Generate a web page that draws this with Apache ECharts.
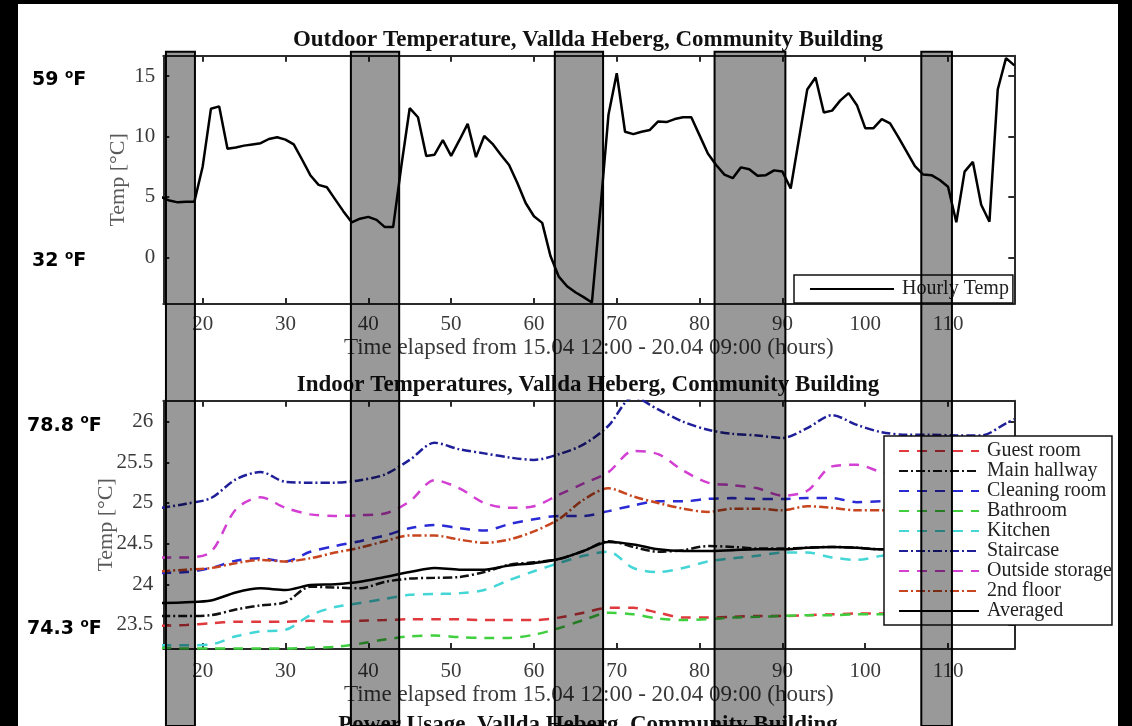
<!DOCTYPE html>
<html>
<head>
<meta charset="utf-8">
<script src="https://cdn.jsdelivr.net/npm/echarts@6/dist/echarts.min.js"></script>
<style>
html,body{margin:0;padding:0;background:#000;}
#c{width:1132px;height:726px;}
</style>
</head>
<body>
<div id="c"></div>
<script>
// ---------- data ----------
const outdoorHours = [15,16,17,18,19,20,21,22,23,24,25,26,27,28,29,30,31,32,33,34,35,36,37,38,39,40,41,42,43,44,45,46,47,48,49,50,51,52,53,54,55,56,57,58,59,60,61,62,63,64,65,66,67,68,69,70,71,72,73,74,75,76,77,78,79,80,81,82,83,84,85,86,87,88,89,90,91,92,93,94,95,96,97,98,99,100,101,102,103,104,105,106,107,108,109,110,111,112,113,114,115,116,117,118];
const outdoorTemp = [5.0,4.7,4.55,4.6,4.6,7.5,12.3,12.5,9.0,9.1,9.25,9.35,9.45,9.8,9.95,9.75,9.35,8.1,6.8,6.0,5.8,4.8,3.8,2.9,3.2,3.35,3.1,2.5,2.5,7.6,12.35,11.6,8.4,8.5,9.7,8.4,9.7,11.05,8.3,10.05,9.4,8.5,7.65,6.15,4.5,3.4,2.85,0.1,-1.6,-2.4,-2.9,-3.3,-3.75,3.8,11.8,15.25,10.4,10.2,10.4,10.55,11.25,11.2,11.45,11.6,11.6,10.1,8.6,7.65,6.85,6.55,7.45,7.3,6.75,6.8,7.2,7.1,5.7,9.8,13.9,14.9,12.0,12.15,13.0,13.6,12.6,10.7,10.7,11.45,11.1,9.95,8.75,7.55,6.85,6.8,6.4,5.85,2.9,7.1,7.9,4.35,2.95,13.9,16.5,15.9];

const indoorHours = [15,18,21,24,27,30,33,36,39,42,45,48,51,54,57,60,63,66,69,72,75,78,81,84,87,90,93,96,99,102,105,108,111,114,117,118];
const guestRoom      = [23.49,23.5,23.52,23.54,23.54,23.54,23.55,23.54,23.55,23.56,23.57,23.57,23.57,23.56,23.56,23.56,23.59,23.65,23.71,23.71,23.65,23.59,23.59,23.6,23.61,23.61,23.62,23.63,23.64,23.64,23.64,23.64,23.64,23.64,23.64,23.64];
const mainHallway    = [23.61,23.61,23.62,23.69,23.74,23.78,23.97,23.96,23.95,24.03,24.07,24.08,24.09,24.15,24.24,24.27,24.31,24.41,24.53,24.46,24.4,24.42,24.47,24.46,24.44,24.44,24.45,24.46,24.45,24.43,24.43,24.43,24.43,24.43,24.43,24.43];
const cleaningRoom   = [24.14,24.15,24.2,24.29,24.32,24.28,24.4,24.47,24.53,24.6,24.69,24.73,24.69,24.66,24.74,24.8,24.84,24.84,24.9,24.97,25.02,25.02,25.05,25.06,25.05,25.05,25.06,25.06,25.01,25.02,25.02,25.02,25.02,25.02,25.02,25.02];
const bathroom       = [23.22,23.21,23.21,23.21,23.21,23.21,23.22,23.23,23.27,23.32,23.36,23.37,23.35,23.34,23.34,23.38,23.46,23.56,23.65,23.63,23.58,23.56,23.57,23.59,23.6,23.61,23.62,23.62,23.63,23.63,23.63,23.63,23.63,23.63,23.63,23.63];
const kitchen        = [23.25,23.25,23.26,23.36,23.42,23.44,23.62,23.72,23.77,23.82,23.87,23.88,23.89,23.93,24.05,24.16,24.26,24.35,24.4,24.2,24.15,24.2,24.28,24.32,24.35,24.39,24.39,24.33,24.3,24.35,24.38,24.38,24.38,24.38,24.38,24.38];
const staircase      = [24.94,24.99,25.06,25.29,25.38,25.26,25.25,25.25,25.28,25.35,25.53,25.74,25.66,25.61,25.56,25.53,25.6,25.72,25.95,26.3,26.15,26.0,25.9,25.85,25.83,25.8,25.92,26.08,25.96,25.87,25.84,25.84,25.83,25.83,25.98,26.03];
const outsideStorage = [24.33,24.33,24.4,24.92,25.07,24.94,24.86,24.84,24.85,24.87,25.02,25.28,25.18,25.0,24.94,24.96,25.1,25.24,25.38,25.64,25.6,25.4,25.25,25.22,25.18,25.09,25.15,25.45,25.47,25.38,25.35,25.35,25.35,25.35,25.35,25.35];
const secondFloor    = [24.16,24.18,24.2,24.26,24.3,24.28,24.32,24.39,24.45,24.53,24.6,24.6,24.55,24.51,24.55,24.65,24.8,25.04,25.18,25.08,25.0,24.93,24.89,24.93,24.93,24.91,24.96,24.94,24.91,24.91,24.91,24.91,24.91,24.91,24.91,24.91];
const averaged       = [23.77,23.78,23.8,23.9,23.95,23.93,23.99,24.0,24.03,24.09,24.15,24.2,24.18,24.18,24.23,24.26,24.31,24.41,24.52,24.49,24.43,24.41,24.41,24.42,24.43,24.43,24.45,24.46,24.45,24.43,24.43,24.43,24.43,24.43,24.43,24.43];

const indoorNames = ['Guest room','Main hallway','Cleaning room','Bathroom','Kitchen','Staircase','Outside storage','2nd floor','Averaged'];

const xTicks = [20,30,40,50,60,70,80,90,100,110];
const outdoorYTicks = [0,5,10,15];
const indoorYTicks = [23.5,24,24.5,25,25.5,26];

// shaded periods (hours)
const bandStart = [15.57,37.9,62.52,81.81,106.77];
const bandEnd   = [19.07,43.73,68.35,90.36,110.47];

// Celsius reference ticks that get a Fahrenheit note on the left
const fahrenheitC = [15,0,26,23.5];
const fahrenheitAxis = [0,0,2,2];

// ---------- chart ----------
const serif = '"Liberation Serif","Times New Roman",serif';
const xMin = 15.25, xMax = 118;
const axisColor = '#2b2b2b';
const pair = (xs, ys) => xs.map((x, i) => [x, ys[i]]);

function xAxes(gridIndex, nameGap, labelMargin) {
  const common = {
    gridIndex, type: 'value', min: xMin, max: xMax,
    axisLine: {show: true, onZero: false, lineStyle: {color: axisColor, width: 2}},
    axisTick: {show: true, inside: true, length: 6, customValues: xTicks, lineStyle: {color: axisColor, width: 2}},
    splitLine: {show: false}
  };
  return [
    Object.assign({}, common, {
      position: 'bottom',
      axisLabel: {show: true, customValues: xTicks, margin: labelMargin, color: '#3a3a3a', fontFamily: serif, fontSize: 21},
      name: 'Time elapsed from 15.04 12:00 - 20.04 09:00 (hours)',
      nameLocation: 'middle', nameGap, nameMoveOverlap: false,
      nameTextStyle: {fontFamily: serif, fontSize: 23, color: '#3a3a3a'}
    }),
    Object.assign({}, common, {position: 'top', axisLabel: {show: false}})
  ];
}
function yAxes(gridIndex, min, max, ticks, nameGap, labelMargin) {
  const common = {
    gridIndex, type: 'value', min, max,
    axisLine: {show: true, onZero: false, lineStyle: {color: axisColor, width: 2}},
    axisTick: {show: true, inside: true, length: 6, customValues: ticks, lineStyle: {color: axisColor, width: 2}},
    splitLine: {show: false}
  };
  return [
    Object.assign({}, common, {
      position: 'left',
      axisLabel: {show: true, customValues: ticks, margin: labelMargin, color: '#3a3a3a', fontFamily: serif, fontSize: 21},
      name: 'Temp [°C]', nameLocation: 'middle', nameGap, nameRotate: 90, nameMoveOverlap: false,
      nameTextStyle: {fontFamily: serif, fontSize: 22, color: '#5a5a5a'}
    }),
    Object.assign({}, common, {position: 'right', axisLabel: {show: false}})
  ];
}

const dashed = [10, 8];
const dashDot = [9, 3, 2, 3];
const indoorStyles = [
  {data: guestRoom, color: '#e0393e', type: dashed},
  {data: mainHallway, color: '#111111', type: dashDot},
  {data: cleaningRoom, color: '#2b2bd6', type: dashed},
  {data: bathroom, color: '#3fcf3f', type: dashed},
  {data: kitchen, color: '#44d6d6', type: dashed},
  {data: staircase, color: '#1f1f99', type: dashDot},
  {data: outsideStorage, color: '#d23fd2', type: dashed},
  {data: secondFloor, color: '#c8461f', type: dashDot},
  {data: averaged, color: '#000000', type: 'solid'}
];

const series = [{
  name: 'Hourly Temp', type: 'line', xAxisIndex: 0, yAxisIndex: 0,
  data: pair(outdoorHours, outdoorTemp), symbol: 'none', clip: true,
  color: '#000', lineStyle: {color: '#000', width: 2.5}, z: 3
}];
indoorStyles.forEach((s, i) => {
  series.push({
    name: indoorNames[i], type: 'line', xAxisIndex: 2, yAxisIndex: 2,
    data: pair(indoorHours, s.data), symbol: 'none', clip: true, smooth: 0.3,
    color: s.color, lineStyle: {color: s.color, width: 2.5, type: s.type}, z: 3
  });
});
series.push({
  name: 'periods', type: 'custom', xAxisIndex: 4, yAxisIndex: 4, z: 50, silent: true, clip: false,
  data: bandStart.map((s, i) => [s, bandEnd[i]]),
  encode: {x: [0, 1]},
  renderItem: function (params, api) {
    const a = api.coord([api.value(0), 1]);
    const b = api.coord([api.value(1), 0]);
    return {
      type: 'rect',
      shape: {x: a[0], y: a[1], width: b[0] - a[0], height: b[1] - a[1]},
      style: {fill: 'rgba(0,0,0,0.4)', stroke: '#000', lineWidth: 2}
    };
  }
});

const titleStyle = {fontFamily: serif, fontSize: 23, fontWeight: 'bold', color: '#111'};
const legendCommon = {
  backgroundColor: '#fff', borderColor: '#111', borderWidth: 1.5, borderRadius: 0,
  selectedMode: false, itemGap: 0,
  itemStyle: {opacity: 0, borderWidth: 0}
};

const option = {
  animation: false,
  backgroundColor: '#ffffff',
  title: [
    {text: 'Outdoor Temperature, Vallda Heberg, Community Building', left: 588, textAlign: 'center', top: 29, padding: 0, textStyle: titleStyle},
    {text: 'Indoor Temperatures, Vallda Heberg, Community Building', left: 588, textAlign: 'center', top: 374, padding: 0, textStyle: titleStyle},
    {text: 'Power Usage, Vallda Heberg, Community Building', left: 588, textAlign: 'center', top: 714, padding: 0, textStyle: titleStyle}
  ],
  grid: [
    {left: 163.3, top: 55.7, width: 851, height: 248.3, containLabel: false},
    {left: 163.3, top: 400.7, width: 851, height: 248.3, containLabel: false},
    {left: 163.3, top: 51.7, width: 851, height: 720, containLabel: false}
  ],
  xAxis: [].concat(
    xAxes(0, 32, 10),
    xAxes(1, 34, 12),
    [{gridIndex: 2, type: 'value', min: xMin, max: xMax, show: false}]
  ),
  yAxis: [].concat(
    yAxes(0, -3.87, 16.7, outdoorYTicks, 34, 8),
    yAxes(1, 23.204, 26.258, indoorYTicks, 46, 10),
    [{gridIndex: 2, type: 'value', min: 0, max: 1, show: false}]
  ),
  legend: [
    Object.assign({}, legendCommon, {
      data: ['Hourly Temp'], left: 794, top: 275, orient: 'horizontal',
      itemWidth: 84, itemHeight: 12, padding: [4, 4, 4, 15],
      textStyle: {fontFamily: serif, fontSize: 20, color: '#222', padding: [0, 0, 0, 3]}
    }),
    Object.assign({}, legendCommon, {
      data: indoorNames, left: 884, top: 436, orient: 'vertical',
      itemWidth: 80, itemHeight: 12, padding: [5, 0, 4, 14],
      textStyle: {fontFamily: serif, fontSize: 20, lineHeight: 19.7, color: '#222', padding: [0, 0, 0, 3]}
    })
  ],
  series: series,
  graphic: [
    {type: 'rect', z: 100, shape: {x: 0, y: 0, width: 18, height: 726}, style: {fill: '#000'}},
    {type: 'rect', z: 100, shape: {x: 1118, y: 0, width: 14, height: 726}, style: {fill: '#000'}},
    {type: 'rect', z: 100, shape: {x: 0, y: 0, width: 1132, height: 4}, style: {fill: '#000'}}
  ]
};

const chart = echarts.init(document.getElementById('c'), null, {renderer: 'canvas'});
chart.setOption(option);

// Fahrenheit notes, positioned with the y scales
const fLeft = [32, 32, 27, 27];
const fElems = fahrenheitC.map((c, i) => {
  const f = Number((c * 9 / 5 + 32).toFixed(1));
  const y = chart.convertToPixel({yAxisIndex: fahrenheitAxis[i]}, c);
  return {
    type: 'text', z: 100, x: fLeft[i], y: y + 4,
    style: {
      text: '{n|' + f + ' }{s|o}{n|F}',
      align: 'left', verticalAlign: 'middle',
      rich: {
        n: {fontFamily: 'DejaVu Sans', fontWeight: 'bold', fontSize: 19, lineHeight: 23, fill: '#000'},
        s: {fontFamily: 'DejaVu Sans', fontWeight: 'bold', fontSize: 12, lineHeight: 13, fill: '#000', verticalAlign: 'top'}
      }
    }
  };
});
chart.setOption({graphic: option.graphic.concat(fElems)});
</script>
</body>
</html>
